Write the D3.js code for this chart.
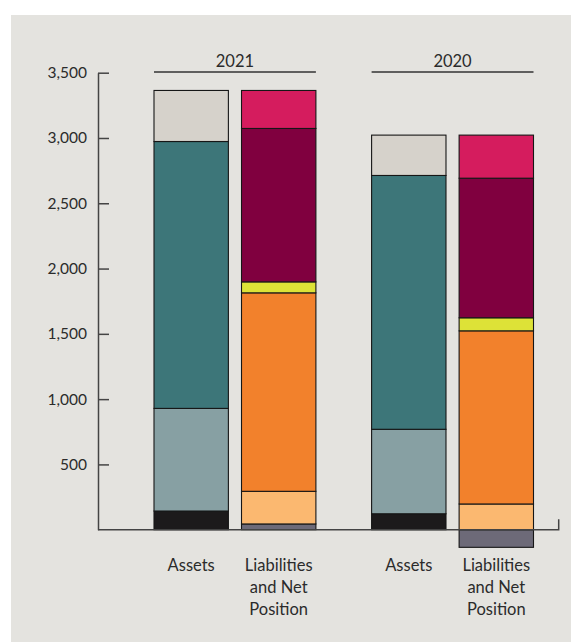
<!DOCTYPE html>
<html>
<head>
<meta charset="utf-8">
<script src="https://cdn.jsdelivr.net/npm/d3@7"></script>
<style>
  html, body { margin: 0; padding: 0; background: #ffffff; }
  svg { display: block; }
  text { font-family: Lato, "Open Sans", sans-serif; fill: #2b2b2b; }
</style>
</head>
<body>
<svg id="chart" width="571" height="642"></svg>
<script>
// ---- data ----
const years = ["2021", "2020"];
const sides = ["Assets", "Liabilities and Net Position"];
const sideLabels = [["Assets"], ["Liabilities", "and Net", "Position"]];
const tickValues = [500, 1000, 1500, 2000, 2500, 3000, 3500];

// asset layers, bottom to top
const assets2021 = [143, 786, 2044, 391];
const assets2020 = [122, 647, 1944, 309];
const assetColors = ["#1c1a1b", "#87a0a3", "#3d7679", "#d6d2cb"];

// liability / net position layers, bottom to top (negative drawn below zero)
const liabilities2021 = [44, 250, 1520, 84, 1175, 291];
const liabilities2020 = [-135, 197, 1326, 100, 1069, 330];
const liabilityColors = ["#6d6a78", "#fbb870", "#f2812c", "#dde237", "#80003f", "#d51c5e"];

// ---- layout ----
const W = 571, H = 642;
const margin = { left: 98, right: 12.3, top: 72.7, bottom: 112.3 };
const svg = d3.select("#chart");

svg.append("rect")
  .attr("x", 11).attr("y", 15)
  .attr("width", W - 11).attr("height", H - 15)
  .attr("fill", "#e4e3df");

const y = d3.scaleLinear()
  .domain([0, 3500])
  .range([H - margin.bottom, margin.top]);

const xYear = d3.scaleBand()
  .domain(years)
  .range([154, 533.5])
  .paddingInner(0.256)
  .paddingOuter(0);

const xSide = d3.scaleBand()
  .domain(sides)
  .range([0, xYear.bandwidth()])
  .paddingInner(0.15)
  .paddingOuter(0);

// build stacked tables per side
function stackSide(valuesByYear, colors) {
  const keys = colors.map((c, i) => "L" + i);
  const rows = years.map((yr, j) => {
    const row = { year: yr };
    keys.forEach((k, i) => { row[k] = valuesByYear[j][i]; });
    return row;
  });
  return d3.stack().keys(keys).offset(d3.stackOffsetDiverging)(rows)
    .map((layer, i) => ({ layer, color: colors[i] }));
}

const stacks = [
  { side: sides[0], layers: stackSide([assets2021, assets2020], assetColors) },
  { side: sides[1], layers: stackSide([liabilities2021, liabilities2020], liabilityColors) }
];

const barsG = svg.append("g");
stacks.forEach(s => {
  s.layers.forEach(({ layer, color }) => {
    barsG.selectAll(null)
      .data(layer)
      .join("rect")
      .attr("x", d => xYear(d.data.year) + xSide(s.side))
      .attr("width", xSide.bandwidth())
      .attr("y", d => y(Math.max(d[0], d[1])))
      .attr("height", d => Math.abs(y(d[0]) - y(d[1])))
      .attr("fill", color)
      .attr("stroke", "#161616")
      .attr("stroke-width", 1.1);
  });
});

// ---- y axis ----
const yAxis = d3.axisLeft(y)
  .tickValues(tickValues)
  .tickFormat(d3.format(","))
  .tickSizeInner(-11)
  .tickSizeOuter(0)
  .tickPadding(11);

const yG = svg.append("g")
  .attr("transform", `translate(${margin.left},0)`)
  .call(yAxis);
yG.select(".domain").attr("stroke", "#444").attr("stroke-width", 1.5);
yG.selectAll(".tick line").attr("stroke", "#444").attr("stroke-width", 1.5);
yG.selectAll(".tick text")
  .attr("fill", "#2b2b2b")
  .style("font-size", "15.5px")
  .style("font-family", "Lato, 'Open Sans', sans-serif");

// ---- baseline along zero with end tick ----
const xEnd = W - margin.right;
svg.append("path")
  .attr("d", `M${margin.left},${y(0)}H${xEnd}V${y(80)}`)
  .attr("fill", "none")
  .attr("stroke", "#444")
  .attr("stroke-width", 1.5);

// ---- year brackets ----
years.forEach(yr => {
  const x0 = xYear(yr), x1 = x0 + xYear.bandwidth();
  svg.append("line")
    .attr("x1", x0).attr("x2", x1)
    .attr("y1", y(3500) - 0.7).attr("y2", y(3500) - 0.7)
    .attr("stroke", "#333").attr("stroke-width", 1.5);
  svg.append("text")
    .attr("x", (x0 + x1) / 2)
    .attr("y", y(3500) - 6)
    .attr("text-anchor", "middle")
    .style("font-size", "16.5px")
    .text(yr);
});

// ---- category labels ----
years.forEach(yr => {
  sides.forEach((sd, i) => {
    const cx = xYear(yr) + xSide(sd) + xSide.bandwidth() / 2;
    const t = svg.append("text")
      .attr("text-anchor", "middle")
      .style("font-size", "16.5px");
    sideLabels[i].forEach((line, k) => {
      t.append("tspan")
        .attr("x", cx)
        .attr("y", 570.7 + k * 22)
        .text(line);
    });
  });
});
</script>
</body>
</html>
